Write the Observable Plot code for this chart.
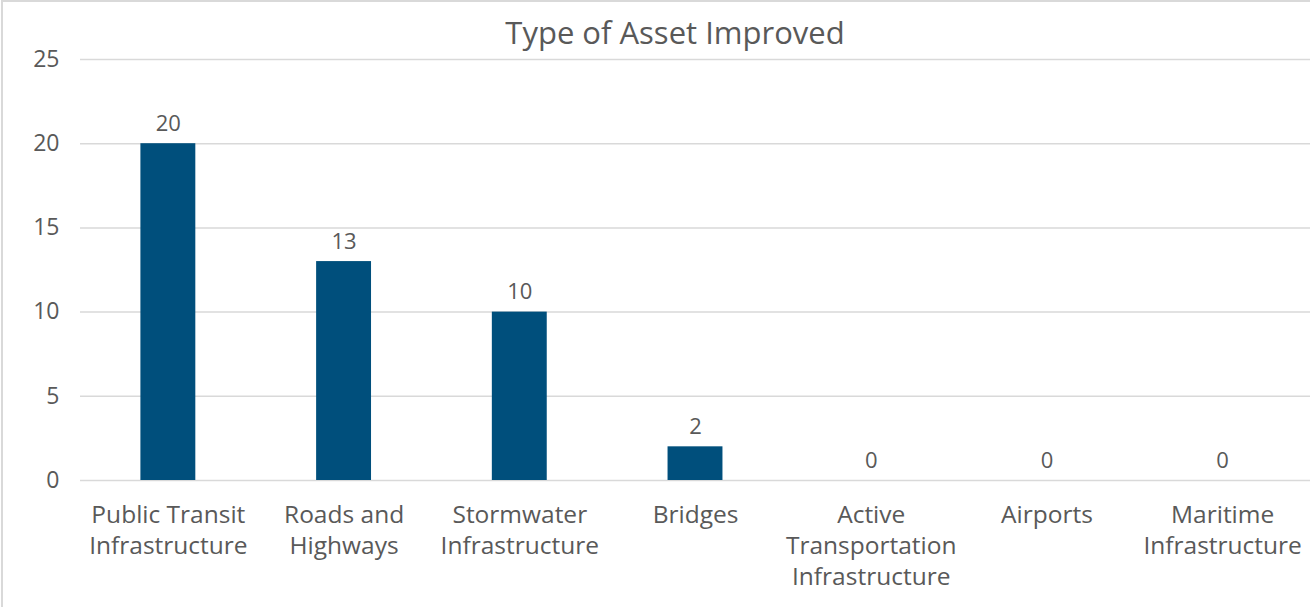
<!DOCTYPE html>
<html>
<head>
<meta charset="utf-8">
<script src="https://cdn.jsdelivr.net/npm/d3@7"></script>
<script src="https://cdn.jsdelivr.net/npm/@observablehq/plot@0.6"></script>
<style>
  html, body { margin: 0; padding: 0; background: #fff; }
  #wrap { position: relative; width: 1310px; height: 607px; overflow: hidden; background: #fff; }
  #frame { position: absolute; left: 1px; top: 0px; width: 1320px; height: 620px; border-left: 2px solid #d9d9d9; border-top: 2px solid #d9d9d9; box-sizing: border-box; pointer-events: none; }
  #title { position: absolute; left: 0; top: 11px; width: 1350px; text-align: center; font-family: "Open Sans", sans-serif; font-size: 31px; color: #595959; line-height: 42px; }
  #chart { position: absolute; left: 0; top: 30px; }
</style>
</head>
<body>
<div id="wrap">
  <div id="title">Type of Asset Improved</div>
  <div id="chart"></div>
  <div id="frame"></div>
</div>
<script>
const categories = [
  "Public Transit Infrastructure",
  "Roads and Highways",
  "Stormwater Infrastructure",
  "Bridges",
  "Active Transportation Infrastructure",
  "Airports",
  "Maritime Infrastructure"
];
const tickLabels = [
  "Public Transit\nInfrastructure",
  "Roads and\nHighways",
  "Stormwater\nInfrastructure",
  "Bridges",
  "Active\nTransportation\nInfrastructure",
  "Airports",
  "Maritime\nInfrastructure"
];
const values = [20, 13, 10, 2, 0, 0, 0];
const yTicks = [0, 5, 10, 15, 20, 25];

const data = categories.map((c, i) => ({category: c, value: values[i]}));
const labelOf = new Map(categories.map((c, i) => [c, tickLabels[i]]));

const textColor = "#595959";
const font = "'Open Sans', sans-serif";

const plot = Plot.plot({
  width: 1310,
  height: 577,
  marginTop: 29,
  marginBottom: 127,
  marginLeft: 80,
  marginRight: 0,
  style: { fontFamily: font, color: textColor, background: "transparent", overflow: "visible" },
  x: { domain: categories, paddingInner: 0.6875, paddingOuter: 0.34375, round: false, label: null },
  y: { domain: [0, 25], label: null },
  marks: [
    Plot.ruleY(yTicks, { stroke: "#d9d9d9", strokeWidth: 1.5 }),
    Plot.barY(data, { x: "category", y: "value", fill: "#004f7c" }),
    Plot.text(data, { x: "category", y: "value", text: d => String(d.value), dy: -20, fontSize: 22, fill: textColor }),
    Plot.axisY(yTicks, { tickSize: 0, tickPadding: 21, fontSize: 23, fill: textColor, label: null }),
    Plot.axisX({ tickSize: 0, tickPadding: 20, fontSize: 24.5, fill: textColor, lineHeight: 1.27, tickFormat: d => labelOf.get(d), label: null })
  ]
});
document.getElementById("chart").appendChild(plot);
</script>
</body>
</html>
